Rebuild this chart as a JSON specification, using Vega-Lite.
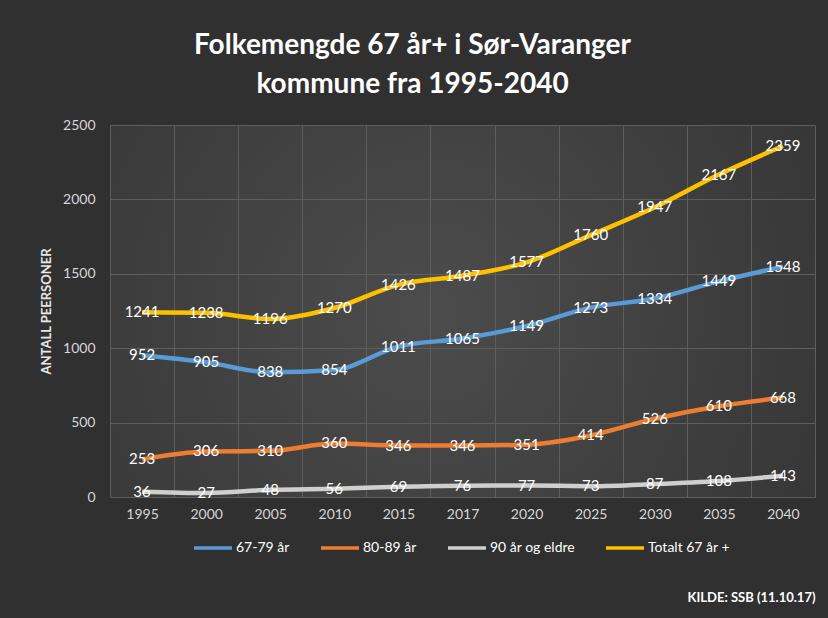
{
  "$schema": "https://vega.github.io/schema/vega-lite/v6.json",
  "width": 705,
  "height": 372,
  "autosize": {"type": "none"},
  "padding": {"left": 110, "top": 125, "right": 13, "bottom": 121},
  "background": "#303030",
  "title": {
    "text": ["Folkemengde  67 år+ i Sør-Varanger", "kommune  fra 1995-2040"],
    "color": "#ffffff",
    "font": "Lato",
    "fontSize": 28,
    "fontWeight": "bold",
    "lineHeight": 39,
    "anchor": "middle",
    "dx": -50,
    "offset": 19
  },
  "data": {
    "values": [
      {"year": "1995", "series": "67-79 år", "value": 952},
      {"year": "2000", "series": "67-79 år", "value": 905},
      {"year": "2005", "series": "67-79 år", "value": 838},
      {"year": "2010", "series": "67-79 år", "value": 854},
      {"year": "2015", "series": "67-79 år", "value": 1011},
      {"year": "2017", "series": "67-79 år", "value": 1065},
      {"year": "2020", "series": "67-79 år", "value": 1149},
      {"year": "2025", "series": "67-79 år", "value": 1273},
      {"year": "2030", "series": "67-79 år", "value": 1334},
      {"year": "2035", "series": "67-79 år", "value": 1449},
      {"year": "2040", "series": "67-79 år", "value": 1548},
      {"year": "1995", "series": "80-89 år", "value": 253},
      {"year": "2000", "series": "80-89 år", "value": 306},
      {"year": "2005", "series": "80-89 år", "value": 310},
      {"year": "2010", "series": "80-89 år", "value": 360},
      {"year": "2015", "series": "80-89 år", "value": 346},
      {"year": "2017", "series": "80-89 år", "value": 346},
      {"year": "2020", "series": "80-89 år", "value": 351},
      {"year": "2025", "series": "80-89 år", "value": 414},
      {"year": "2030", "series": "80-89 år", "value": 526},
      {"year": "2035", "series": "80-89 år", "value": 610},
      {"year": "2040", "series": "80-89 år", "value": 668},
      {"year": "1995", "series": "90 år og eldre", "value": 36},
      {"year": "2000", "series": "90 år og eldre", "value": 27},
      {"year": "2005", "series": "90 år og eldre", "value": 48},
      {"year": "2010", "series": "90 år og eldre", "value": 56},
      {"year": "2015", "series": "90 år og eldre", "value": 69},
      {"year": "2017", "series": "90 år og eldre", "value": 76},
      {"year": "2020", "series": "90 år og eldre", "value": 77},
      {"year": "2025", "series": "90 år og eldre", "value": 73},
      {"year": "2030", "series": "90 år og eldre", "value": 87},
      {"year": "2035", "series": "90 år og eldre", "value": 108},
      {"year": "2040", "series": "90 år og eldre", "value": 143},
      {"year": "1995", "series": "Totalt 67 år +", "value": 1241},
      {"year": "2000", "series": "Totalt 67 år +", "value": 1238},
      {"year": "2005", "series": "Totalt 67 år +", "value": 1196},
      {"year": "2010", "series": "Totalt 67 år +", "value": 1270},
      {"year": "2015", "series": "Totalt 67 år +", "value": 1426},
      {"year": "2017", "series": "Totalt 67 år +", "value": 1487},
      {"year": "2020", "series": "Totalt 67 år +", "value": 1577},
      {"year": "2025", "series": "Totalt 67 år +", "value": 1760},
      {"year": "2030", "series": "Totalt 67 år +", "value": 1947},
      {"year": "2035", "series": "Totalt 67 år +", "value": 2167},
      {"year": "2040", "series": "Totalt 67 år +", "value": 2359}
    ]
  },
  "encoding": {
    "x": {
      "field": "year",
      "type": "ordinal",
      "scale": {"type": "band", "paddingInner": 0, "paddingOuter": 0},
      "axis": {
        "labelAngle": 0,
        "labelColor": "#d6d6d6",
        "labelFont": "Lato",
        "labelFontSize": 14,
        "labelPadding": 10,
        "ticks": false,
        "domain": false,
        "grid": true,
        "gridColor": "#5e5e5e",
        "gridWidth": 1,
        "tickBand": "extent",
        "title": "KILDE: SSB (11.10.17)",
        "titleColor": "#ffffff",
        "titleFont": "Lato",
        "titleFontSize": 13,
        "titleFontWeight": "bold",
        "titleAnchor": "end",
        "titleAlign": "right",
        "titleBaseline": "middle",
        "titleY": 100
      }
    },
    "y": {
      "field": "value",
      "type": "quantitative",
      "scale": {"domain": [0, 2500], "nice": false},
      "axis": {
        "values": [0, 500, 1000, 1500, 2000, 2500],
        "format": "d",
        "labelColor": "#d6d6d6",
        "labelFont": "Lato",
        "labelFontSize": 14,
        "labelPadding": 15,
        "ticks": false,
        "domain": false,
        "grid": true,
        "gridColor": "#5e5e5e",
        "gridWidth": 1,
        "title": "ANTALL PEERSONER",
        "titleColor": "#e6e6e6",
        "titleFont": "Lato",
        "titleFontSize": 13,
        "titleFontWeight": "bold",
        "titlePadding": 9
      }
    }
  },
  "layer": [
    {
      "mark": {"type": "line", "strokeWidth": 4.5, "interpolate": "monotone"},
      "encoding": {
        "color": {
          "field": "series",
          "type": "nominal",
          "scale": {
            "domain": ["67-79 år", "80-89 år", "90 år og eldre", "Totalt 67 år +"],
            "range": ["#5B9BD5", "#ED7D31", "#CFCFCF", "#FFC000"]
          },
          "legend": {
            "orient": "none",
            "legendX": 82,
            "legendY": 402,
            "direction": "horizontal",
            "title": null,
            "symbolType": "stroke",
            "symbolSize": 1444,
            "symbolStrokeWidth": 3.5,
            "labelColor": "#ffffff",
            "labelFont": "Lato",
            "labelFontSize": 14,
            "labelOffset": 2,
            "columnPadding": 24
          }
        }
      }
    },
    {
      "mark": {"type": "text", "color": "#ffffff", "font": "Lato", "fontSize": 15, "align": "center", "baseline": "middle"},
      "encoding": {
        "text": {"field": "value", "type": "quantitative"},
        "detail": {"field": "series", "type": "nominal"}
      }
    }
  ],
  "config": {
    "view": {
      "stroke": null,
      "fill": {
        "gradient": "radial",
        "x1": 0.45, "y1": 0.5, "r1": 0,
        "x2": 0.45, "y2": 0.5, "r2": 0.75,
        "stops": [
          {"offset": 0, "color": "#4c4c4c"},
          {"offset": 1, "color": "#323232"}
        ]
      }
    }
  }
}
